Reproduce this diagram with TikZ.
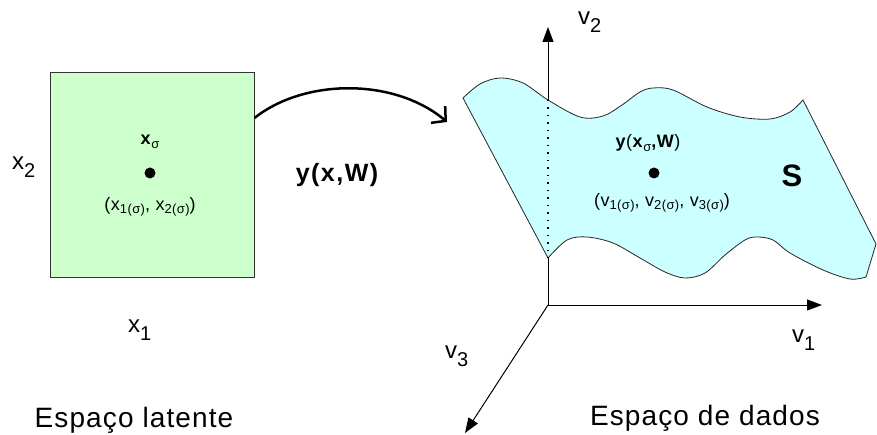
\documentclass[tikz,border=0pt]{standalone}
\usepackage{fontspec}
\setmainfont{Liberation Sans}
\usetikzlibrary{arrows.meta,positioning}
\definecolor{latentfill}{HTML}{CCFFCC}
\definecolor{datafill}{HTML}{CCFFFF}
\newcommand{\lowsub}[1]{\raisebox{-0.2em}{\fontsize{13}{15}\selectfont #1}}
\newcommand{\axsub}[1]{\raisebox{-8pt}{\fontsize{20}{24}\selectfont #1}}

\begin{document}
\begin{tikzpicture}[x=1pt, y=-1pt,
  latent/.style={rectangle, draw=black!80, line width=1pt, fill=latentfill, minimum width=204pt, minimum height=205pt, inner sep=0pt},
  surf/.style={draw=black!85, line width=0.8pt, fill=datafill},
  axis/.style={-{Triangle[length=15pt,width=11pt]}, line width=1pt},
  map/.style={-{Straight Barb[length=10pt,width=22pt]}, line width=2.5pt},
  pt/.style={circle, fill=black, minimum size=11pt, inner sep=0pt},
  title/.style={font=\fontsize{28}{32}\selectfont\addfontfeature{LetterSpace=4}, anchor=base},
  axlbl/.style={font=\fontsize{24}{28}\selectfont, anchor=base west, inner sep=0pt},
  lbl/.style={font=\fontsize{18}{22}\selectfont\addfontfeature{LetterSpace=3}, inner sep=0pt},
  big/.style={font=\fontsize{25}{30}\selectfont\bfseries\addfontfeature{LetterSpace=6}}
]
  \useasboundingbox (0,0) rectangle (877,435);

  % latent space
  \node[latent] (latent) at (152,175.5) {};
  \node[lbl] (xs) at (150,142) {\textbf{x}\lowsub{σ}};
  \node[pt] (xdot) at (150,173) {};
  \node[lbl] (xcoord) at (150,207) {(x\lowsub{1(σ)}, x\lowsub{2(σ)})};
  \node[axlbl] (x2) at (12,170) {x\axsub{2}};
  \node[axlbl] (x1) at (128,332) {x\axsub{1}};
  \node[title] (tlat) at (134,427) {Espaço latente};

  % mapping
  \coordinate (mapend) at (447,122);
  \draw[map] ([yshift=57.5pt]latent.east) .. controls (305,78) and (395,78) .. (mapend);
  \node[big] (ymap) at (337,175) {y(x,W)};

  % data space axes
  \coordinate (origem) at (548,305);
  \coordinate (v2tip) at (548,27);
  \coordinate (v1tip) at (822,305);
  \coordinate (v3tip) at (465,433);
  \foreach \t in {v1tip,v2tip,v3tip}{\draw[axis] (origem) -- (\t);}

  % manifold S
  \draw[surf] plot[smooth, tension=0.55] coordinates {(463,98) (480,84) (500,78) (523,83) (548,100) (580,117) (603,116) (622,105) (640,92) (653,88) (673,90) (707,107) (740,117) (770,119) (790,112) (803,100)}
    -- (876,244)
    -- plot[smooth, tension=0.55] coordinates {(866,277) (850,279) (823,270) (790,253) (773,240) (757,237) (745,240) (725,255) (705,273) (685,278) (665,272) (640,258) (613,243) (587,237) (567,240) (548,258)}
    -- cycle;
  \coordinate (stop) at (548,100);
  \coordinate (sbot) at (548,258);
  \draw[line width=1.2pt, dash pattern=on 1.5pt off 6pt] (stop) -- (sbot);

  \node[lbl] (ys) at (648,143) {\textbf{y}(\textbf{x}\lowsub{σ}\textbf{,W})};
  \node[pt] (ydot) at (654,173) {};
  \node[lbl] (ycoord) at (662,203) {(v\lowsub{1(σ)}, v\lowsub{2(σ)}, v\lowsub{3(σ)})};
  \node[big, font=\fontsize{31}{36}\selectfont\bfseries] (S) at (792,176) {S};

  \node[axlbl] (v2) at (578,25) {v\axsub{2}};
  \node[axlbl] (v1) at (792,342) {v\axsub{1}};
  \node[axlbl] (v3) at (445,358) {v\axsub{3}};
  \node[title] (tdat) at (705,425) {Espaço de dados};
\end{tikzpicture}
\end{document}
